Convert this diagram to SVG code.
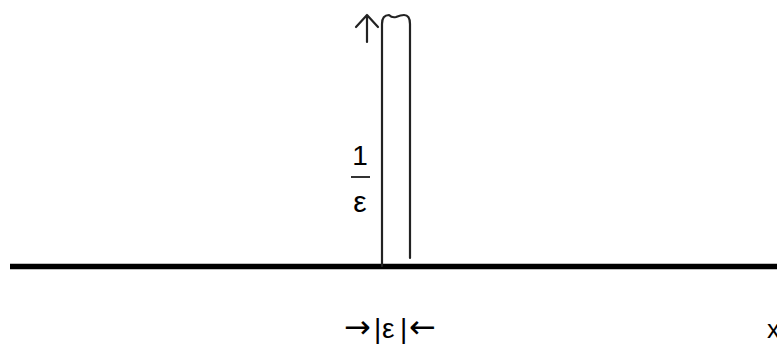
<svg xmlns="http://www.w3.org/2000/svg" width="777" height="344" viewBox="0 0 777 344">
<style>
.t{font-family:"Liberation Sans","DejaVu Sans",sans-serif;fill:#000}
.a{font-family:"DejaVu Sans",sans-serif;font-size:32px}
.s{fill:none;stroke:#222;stroke-width:2.2;stroke-linecap:round;stroke-linejoin:round}
</style>
<rect width="777" height="344" fill="#fff"/>
<g id="axis"><line x1="10" y1="266.5" x2="777" y2="266.5" stroke="#000" stroke-width="5.5"/></g>
<g id="pulse">
<path class="s" d="M382,266 V24 Q382,15 389,15 Q392,18 396,17 Q401,15 404,15 Q410,15 410,24 V258"/>
</g>
<g id="connectors">
<path class="s" d="M367,42 V15 M356,27 L367,15 L378,27"/>
</g>
<g id="labels">
<text class="t" x="360" y="165" font-size="28" text-anchor="middle">1</text>
<line x1="351" y1="177" x2="370" y2="177" stroke="#333" stroke-width="2"/>
<text class="t" x="360" y="212" font-size="30" text-anchor="middle">ε</text>
<text class="t" y="338" font-size="28"><tspan class="a" x="344">→</tspan><tspan x="374">|</tspan><tspan x="382">ε</tspan><tspan x="400">|</tspan><tspan class="a" x="409">←</tspan></text>
<text class="t" x="767" y="338" font-size="26">x</text>
</g>
</svg>
